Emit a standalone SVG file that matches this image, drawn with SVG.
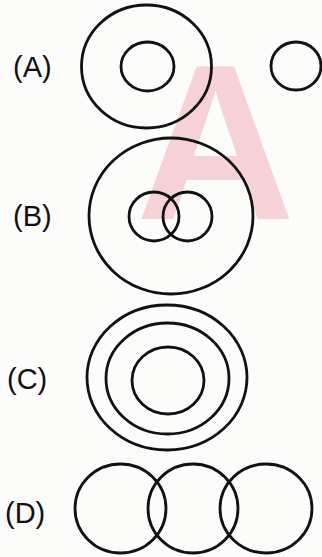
<svg xmlns="http://www.w3.org/2000/svg" width="322" height="557" viewBox="0 0 322 557">
<style>
.c{fill:none;stroke:#111;stroke-width:2.8}
.l{font-family:"Liberation Sans",Arial,sans-serif;font-size:29px;fill:#111}
.wm{font-family:"Liberation Sans",Arial,sans-serif;font-weight:bold;font-size:220px;fill:#f6d2d7}
</style>
<rect width="322" height="557" fill="#fcfcfa"/>
<text class="wm" x="136" y="219">A</text>
<g id="A">
<text class="l" x="13" y="76.5">(A)</text>
<ellipse class="c" cx="146.5" cy="66.5" rx="65" ry="61.5"/>
<ellipse class="c" cx="147.5" cy="66.5" rx="26.5" ry="24.5"/>
<ellipse class="c" cx="296" cy="66" rx="25" ry="24"/>
</g>
<g id="B">
<text class="l" x="13" y="225.5">(B)</text>
<ellipse class="c" cx="171" cy="216" rx="82" ry="78"/>
<ellipse class="c" cx="154" cy="216.5" rx="25" ry="24.5"/>
<ellipse class="c" cx="187.5" cy="216.5" rx="24.5" ry="24.5"/>
</g>
<g id="C">
<text class="l" x="7" y="388.5">(C)</text>
<ellipse class="c" cx="167" cy="377.5" rx="80" ry="72.5"/>
<ellipse class="c" cx="167.5" cy="378.5" rx="61.5" ry="55.5"/>
<ellipse class="c" cx="168" cy="380.5" rx="36" ry="33.5"/>
</g>
<g id="D">
<text class="l" x="5" y="522.5">(D)</text>
<ellipse class="c" cx="120.5" cy="508.5" rx="45.5" ry="44.5"/>
<ellipse class="c" cx="193" cy="508.5" rx="45" ry="44.5"/>
<ellipse class="c" cx="266" cy="508.5" rx="46" ry="44.5"/>
</g>
</svg>
